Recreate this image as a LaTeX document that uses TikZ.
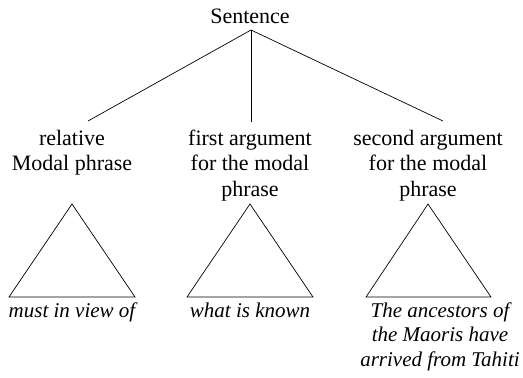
\documentclass[tikz,border=0pt]{standalone}
\usepackage{fontspec}
\setmainfont{Liberation Serif}
\begin{document}
\begin{tikzpicture}[x=1pt,y=-1pt,
  lbl/.style={align=center,inner sep=0pt,anchor=base,font=\fontsize{22}{25.5}\selectfont},
  ital/.style={lbl,font=\fontsize{21}{24.5}\selectfont\itshape},
  edge/.style={line width=0.7pt},
  tri/.style={line width=0.7pt,line join=miter}]
\useasboundingbox (0,0) rectangle (523,378);
\node[lbl] (S) at (250,23) {Sentence};
\coordinate (top) at (251,30);
\node[lbl] (A) at (72,170.5) {relative\\Modal phrase};
\node[lbl] (B) at (250,196) {first argument\\for the modal\\phrase};
\node[lbl] (C) at (428,196) {second argument\\for the modal\\phrase};
\coordinate (ea) at (88,121);
\coordinate (eb) at (251,122);
\coordinate (ec) at (443,121);
\draw[edge] (top) -- (ea);
\draw[edge] (top) -- (eb);
\draw[edge] (top) -- (ec);
\draw[tri] (72,204) -- (135,297) -- (9,297) -- cycle;
\draw[tri] (250,204) -- (313,297) -- (187,297) -- cycle;
\draw[tri] (428,204) -- (491,297) -- (366,297) -- cycle;
\node[ital] (a) at (72,317) {must in view of};
\node[ital] (b) at (250,317) {what is known};
\node[ital] (c) at (440,366) {The ancestors of\\the Maoris have\\arrived from Tahiti};
\end{tikzpicture}
\end{document}
